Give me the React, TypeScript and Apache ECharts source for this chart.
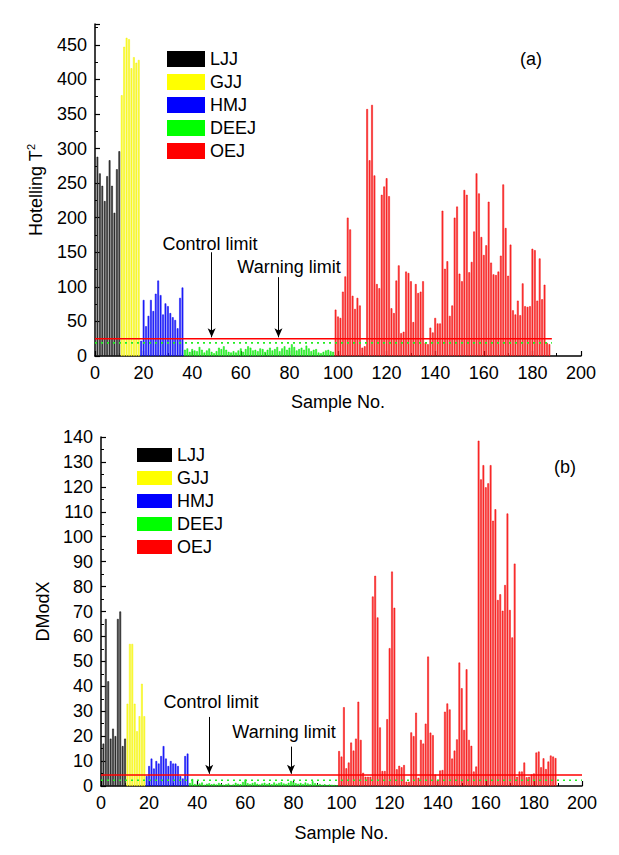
import { useEffect, useRef } from 'react';
import * as echarts from 'echarts';

// ---------- data ----------
const GROUP_NAMES = ['LJJ', 'GJJ', 'HMJ', 'DEEJ', 'OEJ'];
const GROUP_STARTS = [1, 11, 19, 37, 99];

// Panel (a): Hotelling T^2
const T2_LJJ = [288, 264, 246, 224, 260, 283, 246, 207, 270, 296];
const T2_GJJ = [377, 447, 460, 458, 416, 432, 424, 428];
const T2_HMJ = [22, 81, 43, 58, 81, 65, 90, 109, 88, 60, 76, 72, 62, 56, 52, 40, 84, 99];
const T2_DEEJ = [
  9, 11, 6, 10, 8, 7, 13, 9, 5, 8,
  11, 6, 4, 7, 12, 10, 14, 9, 6, 5,
  7, 5, 8, 11, 6, 10, 14, 12, 8, 9,
  7, 11, 10, 6, 9, 12, 8, 10, 13, 7,
  11, 14, 9, 12, 17, 13, 8, 10, 12, 9,
  15, 11, 7, 9, 10, 5, 4, 6, 8, 9,
  7, 6,
];
const T2_OEJ = [
  67, 57, 55, 93, 115, 200, 183, 87, 68, 84,
  73, 12, 14, 357, 283, 363, 261, 104, 98, 233,
  245, 257, 231, 69, 62, 109, 131, 33, 35, 122,
  120, 108, 49, 104, 91, 93, 108, 19, 17, 41,
  34, 55, 47, 47, 210, 126, 137, 58, 73, 200,
  216, 119, 108, 240, 233, 121, 136, 180, 264, 235,
  172, 146, 160, 223, 135, 118, 117, 122, 145, 248,
  185, 116, 161, 66, 60, 80, 59, 105, 72, 71,
  72, 155, 153, 80, 141, 82, 103, 19, 17,
];
const T2_CONTROL = 25;
const T2_WARNING = 19;
const T2_LIMIT_RANGE = [0, 188];

// Panel (b): DModX
const DM_LJJ = [17, 67, 42, 19, 23, 20, 67, 70, 16, 19];
const DM_GJJ = [33, 57, 57, 33, 22, 28, 41, 28];
const DM_HMJ = [4, 8, 11, 7, 10, 9, 12, 16, 11, 8, 10, 9, 9, 8, 4, 3, 12, 13];
const DM_DEEJ = [
  1.2, 2.8, 0.8, 0.6, 1.0, 1.4, 0.5, 0.9, 1.1, 0.7,
  0.9, 0.6, 1.2, 0.8, 0.5, 0.7, 1.0, 0.4, 0.6, 1.3,
  0.9, 0.7, 1.6, 2.6, 1.1, 0.8, 1.2, 1.5, 0.9, 0.6,
  1.0, 1.3, 0.8, 1.1, 0.7, 1.4, 0.9, 1.2, 1.5, 1.0,
  0.8, 1.3, 2.0, 1.6, 1.1, 0.9, 1.2, 0.8, 1.4, 1.0,
  0.7, 1.9, 1.1, 0.6, 0.8, 0.5, 0.7, 0.4, 0.6, 0.5,
  0.4, 0.3,
];
const DM_OEJ = [
  14, 11.8, 31.6, 7.1, 9.4, 17.4, 14.2, 19, 33.8, 18.5,
  5.3, 3.7, 3.7, 3.7, 76, 84.3, 67.6, 23.5, 6, 6,
  26.8, 55.3, 86, 71.5, 6.7, 8.1, 7.5, 8.4, 1.7, 1.7,
  21.5, 20, 29.4, 3.3, 18.5, 17, 25, 51.9, 21.4, 20.4,
  4.6, 2.4, 6.2, 6.4, 29.8, 33.1, 30.7, 11, 14.2, 18.7,
  49.5, 39.2, 22.5, 46.8, 18.5, 16.1, 5.8, 7.8, 138.5, 123,
  128.7, 119.8, 121.4, 128.7, 106.4, 111, 74.6, 76.9, 70.3, 80.6,
  109.3, 70.6, 59.6, 89.2, 3.7, 5.8, 5.8, 9.4, 3.5, 3.7,
  4.6, 5, 13.4, 13.8, 7.5, 11.1, 6.8, 9.8, 12.2, 11.8,
  11.2,
];
const DM_CONTROL = 4.4;
const DM_WARNING = 2.3;
const DM_LIMIT_RANGE = [0, 200];

const X_MIN = 0;
const X_MAX = 200;
const X_INTERVAL = 20;
const T2_MAX = 480;
const T2_INTERVAL = 50;
const DM_MAX = 140;
const DM_INTERVAL = 10;

// ---------- styling ----------
const FONT = '"Liberation Sans", Arial, Helvetica, sans-serif';
const FILLS = ['#4a4a4a', '#ffff3a', '#2a2aff', '#3cff3c', '#ff3c3c'];
const STROKES = ['#000000', '#eeee00', '#0000ee', '#00dd00', '#ee0000'];
const LEGEND_COLORS = ['#000000', '#ffff00', '#0000ff', '#00ff00', '#ff0000'];

const pairs = (start: number, vals: number[]) => vals.map((v, i) => [start + i, v]);

function buildOption() {
  const panels = [
    { series: [T2_LJJ, T2_GJJ, T2_HMJ, T2_DEEJ, T2_OEJ], control: T2_CONTROL, warning: T2_WARNING, range: T2_LIMIT_RANGE,
      arrows: [[48, 150, 27], [75.5, 114, 27]] },
    { series: [DM_LJJ, DM_GJJ, DM_HMJ, DM_DEEJ, DM_OEJ], control: DM_CONTROL, warning: DM_WARNING, range: DM_LIMIT_RANGE,
      arrows: [[45, 27.7, 4.9], [79, 15.8, 4.9]] },
  ];

  const series: any[] = [];
  panels.forEach((p, pi) => {
    p.series.forEach((vals, gi) => {
      series.push({
        type: 'bar',
        name: GROUP_NAMES[gi],
        xAxisIndex: pi,
        yAxisIndex: pi,
        barWidth: 1.7,
        barGap: '-100%',
        data: pairs(GROUP_STARTS[gi], vals),
        itemStyle: { color: FILLS[gi], borderColor: STROKES[gi], borderWidth: 0.5 },
        silent: true,
      });
    });
    series.push({
      type: 'line',
      name: 'warning' + pi,
      xAxisIndex: pi,
      yAxisIndex: pi,
      symbol: 'none',
      silent: true,
      z: 4,
      data: [[p.range[0], p.warning], [p.range[1], p.warning]],
      lineStyle: { color: '#22ee22', width: 1.6, type: [2, 4] },
    });
    series.push({
      type: 'line',
      name: 'control' + pi,
      xAxisIndex: pi,
      yAxisIndex: pi,
      symbol: 'none',
      silent: true,
      z: 5,
      data: [[p.range[0], p.control], [p.range[1], p.control]],
      lineStyle: { color: '#ff0000', width: 1.6 },
      markLine: {
        silent: true,
        symbol: ['none', 'arrow'],
        symbolSize: [6, 9],
        label: { show: false },
        lineStyle: { color: '#000000', width: 1, type: 'solid' },
        data: p.arrows.map((a) => [{ coord: [a[0], a[1]] }, { coord: [a[0], a[2]] }]),
      },
    });
  });

  const xAxisCommon = {
    type: 'value',
    min: X_MIN,
    max: X_MAX,
    interval: X_INTERVAL,
    name: 'Sample No.',
    nameLocation: 'middle',
    nameGap: 37,
    nameTextStyle: { fontSize: 18, color: '#000', fontFamily: FONT },
    axisLine: { show: true, onZero: false, lineStyle: { color: '#000', width: 1.5 } },
    axisTick: { show: true, inside: true, length: 5, lineStyle: { color: '#000', width: 1.2 } },
    minorTick: { show: true, splitNumber: 2, length: 3, lineStyle: { color: '#000', width: 1 } },
    axisLabel: { fontSize: 18, color: '#000', margin: 8, fontFamily: FONT },
    splitLine: { show: false },
    minorSplitLine: { show: false },
  };
  const yAxisCommon = {
    type: 'value',
    min: 0,
    nameLocation: 'middle',
    axisLine: { show: true, onZero: false, lineStyle: { color: '#000', width: 1.5 } },
    axisTick: { show: true, inside: true, length: 5, lineStyle: { color: '#000', width: 1.2 } },
    minorTick: { show: true, splitNumber: 2, length: 3, lineStyle: { color: '#000', width: 1 } },
    axisLabel: { fontSize: 18, color: '#000', margin: 8, fontFamily: FONT, showMaxLabel: false },
    splitLine: { show: false },
    minorSplitLine: { show: false },
  };

  const legendData = GROUP_NAMES.map((n, i) => ({ name: n, itemStyle: { color: LEGEND_COLORS[i], borderWidth: 0 } }));
  const legendCommon = {
    orient: 'vertical',
    icon: 'rect',
    padding: 0,
    selectedMode: false,
    data: legendData,
    textStyle: { fontSize: 18, color: '#000', fontFamily: FONT },
  };

  const txt = (text: string, x: number, y: number) => ({
    type: 'text',
    x,
    y,
    silent: true,
    style: { text, fill: '#000', font: `18px ${FONT}`, align: 'center', verticalAlign: 'middle' },
  });

  return {
    animation: false,
    backgroundColor: '#ffffff',
    textStyle: { fontFamily: FONT, color: '#000' },
    grid: [
      { left: 95, right: 38, top: 24, bottom: 499 },
      { left: 101, right: 37, top: 437, bottom: 69 },
    ],
    xAxis: [
      { ...xAxisCommon, gridIndex: 0 },
      { ...xAxisCommon, gridIndex: 1, nameGap: 38 },
    ],
    yAxis: [
      {
        ...yAxisCommon,
        gridIndex: 0,
        max: T2_MAX,
        interval: T2_INTERVAL,
        name: '{a|Hotelling T}{s|2}',
        nameGap: 48,
        nameTextStyle: {
          color: '#000',
          fontFamily: FONT,
          rich: {
            a: { fontSize: 18, lineHeight: 22, fontFamily: FONT, color: '#000' },
            s: { fontSize: 11, lineHeight: 11, verticalAlign: 'top', fontFamily: FONT, color: '#000' },
          },
        },
      },
      {
        ...yAxisCommon,
        gridIndex: 1,
        max: DM_MAX,
        interval: DM_INTERVAL,
        axisLabel: { ...yAxisCommon.axisLabel, showMaxLabel: true },
        name: 'DModX',
        nameGap: 49,
        nameTextStyle: { fontSize: 18, color: '#000', fontFamily: FONT },
      },
    ],
    legend: [
      { ...legendCommon, left: 167, top: 50, itemWidth: 38, itemHeight: 16, itemGap: 5 },
      { ...legendCommon, left: 137, top: 446, itemWidth: 35, itemHeight: 14, itemGap: 5 },
    ],
    graphic: [
      txt('Control limit', 210, 244),
      txt('Warning limit', 289, 267),
      txt('(a)', 531, 59),
      txt('Control limit', 211, 702),
      txt('Warning limit', 284, 732),
      txt('(b)', 565, 467),
    ],
    series,
  };
}

export default function App() {
  const ref = useRef<HTMLDivElement>(null);
  useEffect(() => {
    if (!ref.current) return;
    const chart = echarts.init(ref.current, undefined, { renderer: 'svg' });
    chart.setOption(buildOption() as any);
    return () => chart.dispose();
  }, []);
  return (
    <div
      ref={ref}
      style={{ position: 'absolute', left: 0, top: 0, width: 619, height: 855, background: '#fff' }}
    />
  );
}
